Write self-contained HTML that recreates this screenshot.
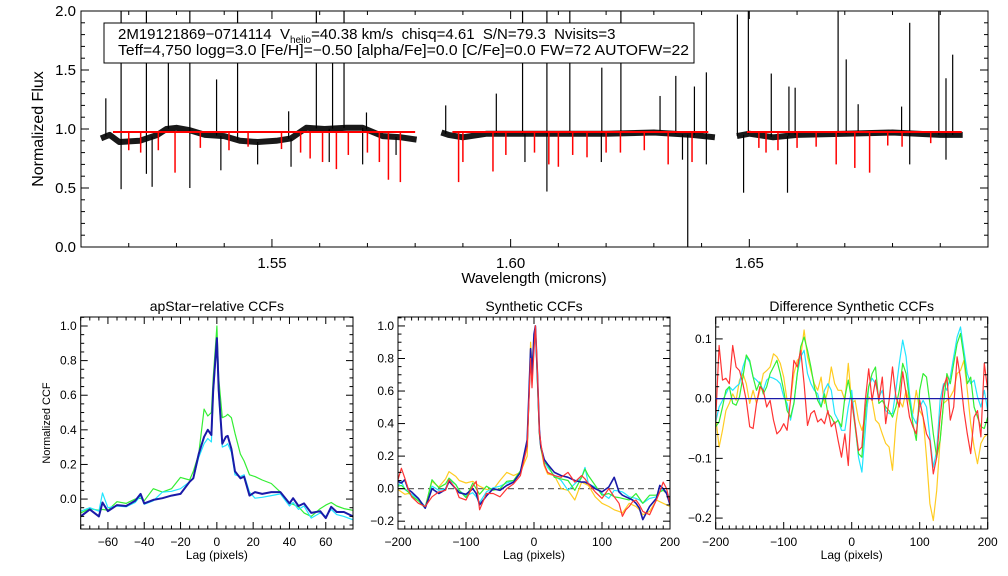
<!DOCTYPE html>
<html><head><meta charset="utf-8"><style>
html,body{margin:0;padding:0;background:#fff}
svg{display:block;font-family:"Liberation Sans",sans-serif}
</style></head><body>
<svg id="fig" width="1008" height="576" viewBox="0 0 1008 576" xmlns="http://www.w3.org/2000/svg">
<rect width="1008" height="576" fill="#fff"/>
<g id="top"></g>
<g id="p1"></g>
<g id="p2"></g>
<g id="p3"></g>
</svg>
<script>
// ---------- Spectrum data ----------
const segRanges = [[1.5142,1.5803],[1.5855,1.6428],[1.6474,1.6947]];
const redRanges = [[1.5167,1.5800],[1.5878,1.6414],[1.6495,1.6945]];
const contLam = [1.5142,1.5160,1.5180,1.5223,1.5260,1.5279,1.5300,1.5328,1.5360,1.5400,1.5433,1.5470,1.5509,1.5540,1.5572,1.5610,1.5656,1.5690,1.5732,1.5770,1.5803,
 1.5855,1.5870,1.5900,1.5950,1.6000,1.6100,1.6200,1.6300,1.6380,1.6428,
 1.6474,1.6500,1.6550,1.6600,1.6700,1.6800,1.6900,1.6947];
const contFlux = [0.92,0.95,0.89,0.90,0.95,1.00,1.01,0.99,0.95,0.94,0.90,0.89,0.90,0.92,1.01,1.00,1.01,1.01,0.94,0.93,0.91,
 0.97,0.95,0.93,0.96,0.96,0.96,0.96,0.97,0.95,0.93,
 0.94,0.96,0.93,0.95,0.96,0.97,0.95,0.95];
const modelCont = 0.975;
const emisLam = [1.5152,1.5184,1.5237,1.5283,1.5328,1.5384,1.5428,1.5535,1.5593,1.5627,1.5651,1.5698,
 1.5864,1.5970,1.6025,1.6076,1.6124,1.6191,1.6231,1.6313,1.6346,1.6385,1.6410,
 1.6475,1.6498,1.6546,1.6583,1.6596,1.6686,1.6703,1.6728,1.6819,1.6836,1.6897,1.6912,1.6926];
const emisFlux = [1.26,2.0,2.0,1.56,2.0,1.42,2.0,1.15,2.0,1.58,2.0,1.14,
 1.20,1.30,2.0,2.0,2.0,1.52,2.0,1.28,1.45,1.36,1.48,
 1.97,2.0,1.47,1.36,1.35,2.0,1.59,1.21,1.19,1.90,2.0,1.43,1.63];
const absLam = [1.5184,1.5249,1.5237,1.5328,1.5393,1.5470,1.5540,1.5620,1.5690,1.5760,1.6076,1.6030,1.6190,1.6360,1.6371,1.6410,1.6488,1.6580,1.6836,1.6912];
const absFlux = [0.49,0.51,0.62,0.50,0.65,0.70,0.68,0.72,0.70,0.78,0.47,0.72,0.72,0.74,0.0,0.70,0.46,0.46,0.70,0.74];
const modelLineLam = [1.5200,1.5225,1.5262,1.5297,1.5350,1.5410,1.5450,1.5520,1.5560,1.5580,1.5606,1.5635,1.5660,1.5700,1.5725,1.5744,1.5769,
 1.5891,1.5900,1.5963,1.5990,1.6050,1.6080,1.6100,1.6130,1.6160,1.6200,1.6230,1.6280,1.6330,1.6380,
 1.6520,1.6535,1.6560,1.6600,1.6640,1.6682,1.6721,1.6752,1.6790,1.6820,1.6880];
const modelLineFlux = [0.82,0.80,0.82,0.63,0.84,0.82,0.85,0.83,0.80,0.75,0.72,0.66,0.78,0.80,0.72,0.57,0.55,
 0.55,0.72,0.64,0.78,0.80,0.70,0.68,0.78,0.76,0.80,0.80,0.82,0.70,0.72,
 0.84,0.80,0.82,0.84,0.85,0.70,0.67,0.63,0.86,0.85,0.88];
const topXTicks = ["1.55","1.60","1.65"];
const topYTicks = ["0.0","0.5","1.0","1.5","2.0"];

// ---------- CCF data ----------
const lagsL = [-75,-70,-65,-63,-60,-55,-50,-45,-42,-40,-35,-30,-25,-20,-15,-13,-10,-7,-5,-3,-2,0,1,3,5,6,8,10,13,15,18,21,25,30,35,40,42,45,48,52,57,60,63,66,70,75];
const ccfBlue = [-0.10,-0.06,-0.10,-0.02,-0.07,-0.035,-0.04,-0.01,0.03,-0.025,-0.005,0.005,0.02,0.03,0.10,0.12,0.26,0.36,0.40,0.37,0.63,0.93,0.63,0.32,0.36,0.365,0.29,0.16,0.12,0.13,0.02,0.04,0.03,0.04,0.04,-0.025,0.005,-0.04,-0.025,-0.08,-0.07,-0.11,-0.045,-0.075,-0.075,-0.10];
const ccfCyan = [-0.07,-0.05,-0.07,0.035,-0.05,-0.04,-0.045,-0.02,0.02,-0.03,-0.01,0.04,0.045,0.06,0.10,0.12,0.24,0.32,0.35,0.33,0.60,0.92,0.60,0.30,0.31,0.32,0.27,0.14,0.13,0.14,0.04,0.005,0.01,0.02,0.03,-0.04,-0.02,-0.06,-0.04,-0.11,-0.08,-0.10,-0.06,-0.09,-0.10,-0.12];
const ccfGreen = [-0.08,-0.055,-0.065,-0.06,-0.065,-0.015,-0.025,0.0,0.005,-0.01,0.06,0.04,0.06,0.125,0.11,0.16,0.26,0.52,0.48,0.50,0.70,1.0,0.70,0.47,0.48,0.49,0.47,0.38,0.26,0.22,0.14,0.13,0.11,0.09,0.04,-0.025,-0.03,-0.045,-0.08,-0.10,-0.055,-0.035,-0.02,-0.04,-0.055,-0.065];

const lagsM = [-200,-195,-190,-185,-180,-170,-160,-150,-140,-130,-125,-115,-110,-100,-90,-85,-80,-70,-60,-50,-40,-30,-20,-10,-5,-3,0,2,5,8,10,15,20,30,40,50,60,70,75,80,90,100,110,118,125,130,135,140,145,150,155,160,170,180,185,190,195,200];
const synNavy = [0.045,0.035,0.055,-0.005,-0.02,-0.06,-0.12,0.0,-0.03,-0.005,0.045,0.0,-0.025,-0.035,0.0,-0.03,-0.10,-0.045,0.0,-0.01,0.02,0.04,0.10,0.30,0.86,0.69,0.95,1.0,0.71,0.36,0.26,0.18,0.15,0.10,0.08,0.07,0.05,0.04,0.04,0.03,0.0,-0.02,0.01,0.07,-0.02,-0.04,-0.05,-0.06,-0.07,-0.09,-0.12,-0.19,-0.11,-0.06,0.02,0.0,-0.03,-0.10];
const synCyan = [0.015,0.045,-0.005,-0.02,-0.035,-0.065,-0.11,0.015,-0.01,0.0,0.055,0.025,-0.01,-0.045,-0.025,-0.05,-0.085,-0.02,0.005,0.015,0.035,0.05,0.10,0.28,0.83,0.68,0.90,0.97,0.66,0.34,0.26,0.17,0.13,0.08,0.05,-0.01,0.03,0.07,0.13,0.03,0.01,-0.03,-0.06,-0.01,-0.015,-0.02,-0.035,-0.05,-0.055,-0.06,-0.07,-0.09,-0.06,-0.05,-0.02,0.0,-0.02,-0.06];
const synGreen = [0.015,0.02,0.0,-0.02,-0.045,-0.075,-0.12,0.055,0.005,0.03,0.065,0.025,-0.01,-0.055,0.035,0.0,-0.035,0.015,-0.01,0.0,0.045,0.05,0.11,0.26,0.84,0.70,0.92,0.99,0.68,0.34,0.25,0.16,0.145,0.07,0.06,0.05,-0.01,0.07,0.12,0.08,0.02,-0.04,-0.03,-0.05,-0.055,-0.06,-0.065,-0.07,-0.05,-0.03,-0.06,-0.09,-0.04,-0.04,-0.02,-0.01,-0.03,-0.08];
const synYellow = [-0.005,-0.02,-0.035,-0.03,-0.035,-0.07,-0.11,0.045,0.01,0.06,0.105,0.075,0.05,0.035,0.045,0.03,0.015,-0.005,-0.005,0.05,0.10,0.08,0.10,0.20,0.90,0.75,0.88,0.98,0.65,0.33,0.25,0.14,0.09,0.08,0.0,-0.01,-0.07,0.04,0.03,0.02,-0.05,-0.09,-0.11,-0.13,-0.14,-0.15,-0.12,-0.09,-0.10,-0.11,-0.13,-0.16,-0.14,-0.07,-0.08,-0.09,-0.10,-0.11];
const synRed = [0.055,0.125,0.065,0.0,-0.05,-0.09,-0.11,-0.05,-0.02,-0.01,0.055,0.0,-0.055,-0.07,0.015,0.045,-0.13,-0.03,-0.03,-0.05,0.0,0.03,0.08,0.26,0.80,0.62,0.85,1.0,0.72,0.35,0.28,0.15,0.10,0.08,0.07,0.10,0.04,0.08,0.06,0.03,-0.02,-0.06,0.0,-0.05,-0.09,-0.17,-0.13,-0.11,-0.08,-0.07,-0.10,-0.14,-0.16,-0.07,-0.02,0.04,0.0,-0.09];

const lagsR = [-200,-195,-190,-185,-180,-175,-170,-165,-160,-155,-150,-145,-140,-135,-130,-125,-120,-115,-110,-105,-100,-95,-90,-85,-80,-75,-70,-65,-60,-55,-50,-45,-40,-35,-30,-25,-20,-15,-10,-5,0,5,10,15,20,25,30,35,40,45,50,55,60,65,70,75,80,85,90,95,100,105,110,115,120,125,130,135,140,145,150,155,160,165,170,175,180,185,190,195,200];
const difRed = [-0.036,0.089,0.031,0.034,0.025,0.089,0.053,0.047,0.025,-0.003,-0.047,-0.050,-0.008,0.020,0.014,-0.014,-0.003,-0.036,-0.059,-0.053,-0.042,-0.053,-0.003,0.064,0.053,0.081,0.025,-0.045,-0.025,-0.020,-0.039,-0.034,-0.042,-0.020,-0.047,-0.039,-0.070,-0.098,-0.059,-0.112,-0.003,-0.042,-0.087,-0.081,-0.003,0.050,-0.003,0.031,-0.003,0.036,-0.042,-0.003,0.053,0.003,-0.014,0.045,0.008,-0.031,-0.047,-0.059,-0.003,-0.031,-0.059,-0.070,-0.126,-0.098,-0.031,0.020,0.036,-0.036,-0.014,0.070,0.034,-0.020,-0.059,-0.092,-0.031,-0.020,-0.064,0.059,0.014];
const difGreen = [-0.047,-0.039,-0.014,0.014,0.020,-0.008,-0.011,0.003,0.036,0.073,0.064,0.036,0.014,0.028,0.008,0.020,0.042,0.053,0.064,0.042,0.014,-0.020,-0.031,-0.008,0.042,0.087,0.103,0.081,0.053,0.020,-0.003,-0.014,0.008,-0.025,-0.031,-0.042,-0.036,-0.047,0.003,0.031,-0.003,-0.047,-0.092,-0.098,-0.020,0.020,0.042,0.053,-0.008,-0.003,-0.014,-0.020,-0.031,-0.014,0.014,0.059,0.042,-0.003,-0.042,-0.070,0.014,0.042,0.036,-0.008,-0.059,-0.098,-0.070,-0.008,0.042,0.025,0.059,0.092,0.109,0.070,0.025,0.036,-0.014,-0.031,-0.047,-0.050,-0.031];
const difCyan = [-0.039,-0.014,-0.003,0.008,0.020,0.014,0.020,0.025,0.053,0.070,0.061,0.036,0.031,0.025,0.014,0.031,0.036,0.034,0.031,0.025,0.003,-0.008,-0.036,-0.008,0.042,0.070,0.081,0.042,0.025,0.014,0.008,-0.014,0.014,0.025,0.014,-0.025,-0.036,-0.053,-0.053,-0.014,0.014,-0.042,-0.098,-0.123,-0.053,0.020,0.034,0.025,0.003,0.014,-0.020,-0.025,-0.025,0.014,0.059,0.098,0.070,0.008,-0.031,-0.042,-0.014,-0.003,-0.014,-0.064,-0.115,-0.087,-0.003,0.025,0.014,0.036,0.070,0.103,0.120,0.081,0.042,0.025,0.031,0.003,-0.014,0.014,-0.020];
const difYellow = [-0.031,-0.081,-0.053,-0.020,-0.008,0.008,-0.003,0.031,0.042,0.025,-0.008,0.014,-0.008,0.014,0.042,0.047,0.053,0.075,0.070,0.059,0.036,-0.003,-0.003,0.042,0.064,0.070,0.115,0.070,0.047,0.025,0.014,0.036,-0.008,0.014,0.053,0.025,0.014,0.014,-0.003,0.059,-0.008,-0.003,-0.036,-0.053,-0.031,0.003,-0.003,-0.036,-0.042,-0.059,-0.075,-0.081,-0.120,-0.042,-0.003,-0.014,0.014,-0.008,-0.025,0.014,-0.020,-0.031,-0.098,-0.176,-0.204,-0.154,-0.070,-0.008,-0.003,0.003,0.014,0.042,0.047,0.064,0.014,-0.042,-0.081,-0.109,-0.075,-0.064,-0.059];

const NS="http://www.w3.org/2000/svg";
function mk(parent,tag,attrs,text){const e=document.createElementNS(NS,tag);for(const k in attrs)e.setAttribute(k,attrs[k]);if(text!==undefined)e.textContent=text;parent.appendChild(e);return e;}
function lin(d0,d1,p0,p1){return v=>p0+(v-d0)*(p1-p0)/(d1-d0);}

// ---------- Top panel ----------
(function(){
 const g=document.getElementById('top');
 const L=81,R=988,T=11,B=247;
 const x=lin(1.51,1.70,L,R), y=lin(0,2,B,T);
 const clip=mk(g,'clipPath',{id:'topclip'}); mk(clip,'rect',{x:L,y:T,width:R-L,height:B-T});
 const data=mk(g,'g',{'clip-path':'url(#topclip)'});
 function cont(l){for(let i=0;i<contLam.length-1;i++){if(l>=contLam[i]&&l<=contLam[i+1]){const t=(l-contLam[i])/(contLam[i+1]-contLam[i]);return contFlux[i]+t*(contFlux[i+1]-contFlux[i]);}}return contFlux[contFlux.length-1];}
 segRanges.forEach((s,si)=>{
  const pts=contLam.filter(l=>l>=s[0]-1e-6&&l<=s[1]+1e-6).map(l=>x(l).toFixed(1)+','+y(cont(l)).toFixed(1)).join(' ');
  const band=mk(data,'polyline',{points:pts,fill:'none',stroke:'#000','stroke-width':6,'stroke-opacity':0.9,'stroke-linejoin':'round'});
  
  
 });
 emisLam.forEach((l,i)=>{
  const ln=mk(data,'line',{x1:x(l),x2:x(l),y1:y(cont(l)),y2:y(emisFlux[i]),stroke:'#000','stroke-width':1.2});
  
  
 });
 absLam.forEach((l,i)=>{
  const ln=mk(data,'line',{x1:x(l),x2:x(l),y1:y(cont(l)),y2:y(absFlux[i]),stroke:'#000','stroke-width':1.2});
  
  
 });
 redRanges.forEach(s=>{
  const m=mk(data,'line',{x1:x(s[0]),x2:x(s[1]),y1:y(modelCont),y2:y(modelCont),stroke:'#f00','stroke-width':2});
  
  
 });
 modelLineLam.forEach((l,i)=>{
  const ln=mk(data,'line',{x1:x(l),x2:x(l),y1:y(modelCont),y2:y(modelLineFlux[i]),stroke:'#f00','stroke-width':1.5});
  
  
 });
 const fr=mk(g,'rect',{x:L,y:T,width:R-L,height:B-T,fill:'none',stroke:'#000','stroke-width':1});
 
 
 for(let k=0;k<=19;k++){const l=1.51+k*0.01;const xx=x(l);const maj=(k%5==4);const len=maj?8:4;
  mk(g,'line',{x1:xx,x2:xx,y1:B,y2:B-len,stroke:'#000'});mk(g,'line',{x1:xx,x2:xx,y1:T,y2:T+len,stroke:'#000'});}
 topXTicks.forEach(t=>{const e=mk(g,'text',{x:x(+t),y:268,'font-size':15,'text-anchor':'middle'},t);
  
  });
 for(let k=0;k<=20;k++){const v=k*0.1;const yy=y(v);const maj=(k%5==0);const len=maj?8:4;
  mk(g,'line',{x1:L,x2:L+len,y1:yy,y2:yy,stroke:'#000'});mk(g,'line',{x1:R,x2:R-len,y1:yy,y2:yy,stroke:'#000'});}
 topYTicks.forEach(t=>{const e=mk(g,'text',{x:76,y:y(+t)+5,'font-size':15,'text-anchor':'end'},t);
  
  });
 const xt=mk(g,'text',{x:534,y:283,'font-size':15,'text-anchor':'middle'},'Wavelength (microns)');
 
 
 const yt=mk(g,'text',{x:43,y:129,'font-size':16,'text-anchor':'middle',transform:'rotate(-90 43 129)'},'Normalized Flux');
 
 
 const box=mk(g,'g',{});
 
 
 mk(box,'rect',{x:104,y:23,width:590,height:40,fill:'#fff',stroke:'#000'});
 const t1=mk(box,'text',{x:118,y:39,'font-size':15,style:'white-space:pre'});
 mk(t1,'tspan',{},'2M19121869\u22120714114  V');
 mk(t1,'tspan',{'font-size':10,dy:4},'helio');
 mk(t1,'tspan',{dy:-4},'=40.38 km/s  chisq=4.61  S/N=79.3  Nvisits=3');
 mk(box,'text',{x:118,y:55,'font-size':15,textLength:571,lengthAdjust:'spacingAndGlyphs'},'Teff=4,750 logg=3.0 [Fe/H]=\u22120.50 [alpha/Fe]=0.0 [C/Fe]=0.0 FW=72 AUTOFW=22');
})();

// ---------- CCF panels ----------
function panel(id,L,R,xr,yr,xTicks,xMinor,yTicks,yMinor,yFmt,title,series,lags,extra){
 const g=document.getElementById(id);const T=317,B=529;
 const x=lin(xr[0],xr[1],L,R), y=lin(yr[0],yr[1],B,T);
 const cid=id+'clip';const clip=mk(g,'clipPath',{id:cid});mk(clip,'rect',{x:L,y:T,width:R-L,height:B-T});
 const d=mk(g,'g',{'clip-path':'url(#'+cid+')'});
 if(extra)extra(d,x,y);
 series.forEach(s=>{const pts=lags.map((l,i)=>x(l).toFixed(1)+','+y(s.v[i]).toFixed(1)).join(' ');
  const p=mk(d,'polyline',{points:pts,fill:'none',stroke:s.c,'stroke-width':s.w||1.2,'stroke-linejoin':'round'});
  
  });
 const fr=mk(g,'rect',{x:L,y:T,width:R-L,height:B-T,fill:'none',stroke:'#000'});
 
 
 for(let v=xr[0];v<=xr[1]+1e-9;v+=xMinor){const xx=x(v);const maj=Math.abs(Math.round(v/xTicks.step)*xTicks.step-v)<1e-6;const len=maj?7:3.5;
  mk(g,'line',{x1:xx,x2:xx,y1:B,y2:B-len,stroke:'#000'});mk(g,'line',{x1:xx,x2:xx,y1:T,y2:T+len,stroke:'#000'});}
 xTicks.labels.forEach(t=>{const e=mk(g,'text',{x:x(+t),y:546,'font-size':12,'text-anchor':'middle'},t.replace('-','\u2212'));
  
  });
 const y0=Math.ceil(yr[0]/yMinor-1e-9)*yMinor;
 for(let v=y0;v<=yr[1]+1e-9;v+=yMinor){const yy=y(v);const maj=Math.abs(Math.round(v/yTicks.step)*yTicks.step-v)<1e-6;const len=maj?7:3.5;
  mk(g,'line',{x1:L,x2:L+len,y1:yy,y2:yy,stroke:'#000'});mk(g,'line',{x1:R,x2:R-len,y1:yy,y2:yy,stroke:'#000'});}
 yTicks.labels.forEach(t=>{const e=mk(g,'text',{x:L-4,y:y(+t)+4,'font-size':12,'text-anchor':'end'},t.replace('-','\u2212'));
  
  });
 const tt=mk(g,'text',{x:(L+R)/2,y:311,'font-size':14,'text-anchor':'middle'},title);
 
 
 const xl=mk(g,'text',{x:(L+R)/2,y:559,'font-size':12,'text-anchor':'middle'},'Lag (pixels)');
 
 
}
const tickL={step:20,labels:["-60","-40","-20","0","20","40","60"]};
const tickYL={step:0.2,labels:["0.0","0.2","0.4","0.6","0.8","1.0"]};
panel('p1',80.7,353,[-75,75],[-0.173,1.052],tickL,5,tickYL,0.05,null,'apStar\u2212relative CCFs',
 [{n:'ccf-green',c:'#33ee33',v:ccfGreen},{n:'ccf-cyan',c:'#22e5ff',v:ccfCyan},{n:'ccf-blue',c:'#1a1aa8',v:ccfBlue,w:2}],lagsL);
const yl=mk(document.getElementById('p1'),'text',{x:50,y:423,'font-size':11,'text-anchor':'middle',transform:'rotate(-90 50 423)'},'Normalized CCF');


const tickM={step:100,labels:["-200","-100","0","100","200"]};
panel('p2',398,670,[-200,200],[-0.248,1.055],tickM,10,{step:0.2,labels:["-0.2","0.0","0.2","0.4","0.6","0.8","1.0"]},0.05,null,'Synthetic CCFs',
 [{n:'syn-yellow',c:'#ffcc22',v:synYellow},{n:'syn-cyan',c:'#22e5ff',v:synCyan},{n:'syn-green',c:'#33ee33',v:synGreen},{n:'syn-navy',c:'#1a1aa8',v:synNavy,w:1.6},{n:'syn-red',c:'#ff3333',v:synRed}],lagsM,
 (d,x,y)=>{const z=mk(d,'line',{x1:x(-200),x2:x(200),y1:y(0),y2:y(0),stroke:'#666','stroke-width':1.2,'stroke-dasharray':'6,4'});
  
  });
panel('p3',715.7,987.7,[-200,200],[-0.2183,0.1367],tickM,10,{step:0.1,labels:["-0.2","-0.1","0.0","0.1"]},0.02,null,'Difference Synthetic CCFs',
 [{n:'dif-yellow',c:'#ffcc22',v:difYellow},{n:'dif-cyan',c:'#22e5ff',v:difCyan},{n:'dif-green',c:'#33ee33',v:difGreen},{n:'dif-red',c:'#ff3333',v:difRed}],lagsR,null);
(function(){const g=document.getElementById('p3');const x=lin(-200,200,715.7,987.7),y=lin(-0.2183,0.1367,529,317);
 const z=mk(g,'line',{x1:x(-200),x2:x(200),y1:y(0),y2:y(0),stroke:'#1a1aa8','stroke-width':1.3});
 
 })();
</script>
</body></html>
